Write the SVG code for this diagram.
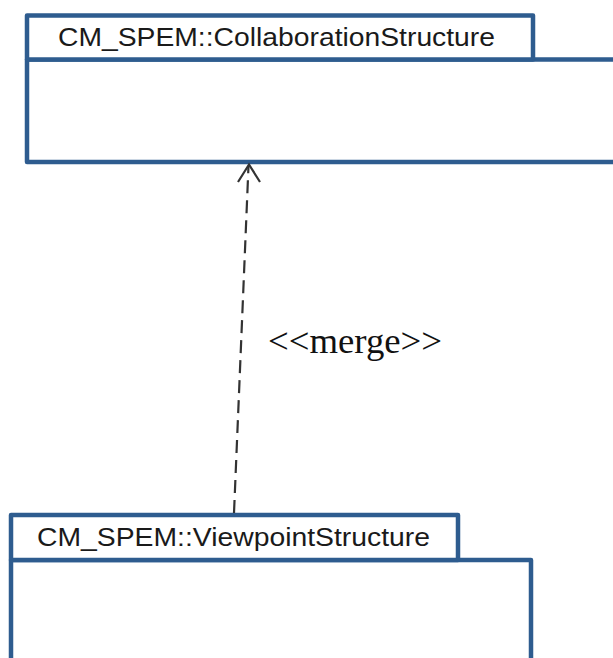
<svg xmlns="http://www.w3.org/2000/svg" width="613" height="658" viewBox="0 0 613 658">
  <style>
    .pkg { fill: #ffffff; stroke: #2E5C8F; stroke-width: 4.5; stroke-linejoin: round; }
    .lbl { font-family: "Liberation Sans", Arial, sans-serif; font-size: 25px; fill: #1a1a1a; }
    .conn { fill: none; stroke: #333333; stroke-width: 2.2; }
    .stereo { font-family: "Liberation Serif", "Times New Roman", serif; font-size: 36px; fill: #111111; }
  </style>
  <rect width="613" height="658" fill="#ffffff"/>
  <g id="collaborationStructure">
    <rect class="pkg" x="27" y="59.5" width="600" height="102.5"/>
    <rect class="pkg" x="27" y="15.5" width="506" height="44"/>
    <text class="lbl" x="58" y="46" textLength="437" lengthAdjust="spacingAndGlyphs">CM_SPEM::CollaborationStructure</text>
  </g>
  <g id="viewpointStructure">
    <rect class="pkg" x="11" y="560" width="520" height="110"/>
    <rect class="pkg" x="11" y="515" width="447" height="45"/>
    <text class="lbl" x="37" y="546" textLength="393" lengthAdjust="spacingAndGlyphs">CM_SPEM::ViewpointStructure</text>
  </g>
  <g id="connectors">
    <line class="conn" x1="234" y1="513" x2="248.5" y2="166" stroke-dasharray="13 7"/>
    <polyline class="conn" points="238,182 249,164.5 260,182"/>
    <text class="stereo" x="268" y="353" textLength="174" lengthAdjust="spacingAndGlyphs">&lt;&lt;merge&gt;&gt;</text>
  </g>
</svg>
